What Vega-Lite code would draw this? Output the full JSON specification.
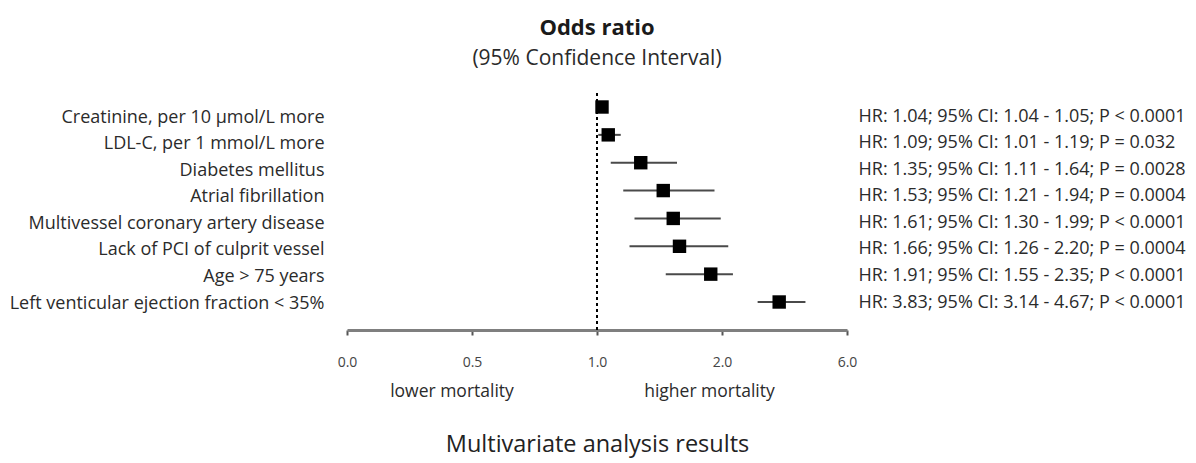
{
  "$schema": "https://vega.github.io/schema/vega-lite/v6.json",
  "autosize": {"type": "none"},
  "padding": {"left": 347, "top": 93, "right": 349, "bottom": 133},
  "width": 500,
  "height": 237,
  "background": "white",
  "config": {
    "view": {"stroke": null},
    "font": "Open Sans",
    "axis": {"labelFont": "Open Sans", "titleFont": "Open Sans"},
    "title": {"font": "Open Sans", "subtitleFont": "Open Sans"}
  },
  "title": {
    "text": "Odds ratio",
    "subtitle": "(95% Confidence Interval)",
    "fontSize": 22,
    "fontWeight": "bold",
    "color": "#1a1a1a",
    "subtitleFontSize": 21,
    "subtitleColor": "#2a2a2a",
    "subtitlePadding": 8,
    "anchor": "middle",
    "offset": 22
  },
  "datasets": {
    "rows": [
      {"label": "Creatinine, per 10 μmol/L more", "stat": "HR: 1.04; 95% CI: 1.04 - 1.05; P < 0.0001", "hr": 1.04, "lo": 1.04, "hi": 1.05},
      {"label": "LDL-C, per 1 mmol/L more", "stat": "HR: 1.09; 95% CI: 1.01 - 1.19; P = 0.032", "hr": 1.09, "lo": 1.01, "hi": 1.19},
      {"label": "Diabetes mellitus", "stat": "HR: 1.35; 95% CI: 1.11 - 1.64; P = 0.0028", "hr": 1.35, "lo": 1.11, "hi": 1.64},
      {"label": "Atrial fibrillation", "stat": "HR: 1.53; 95% CI: 1.21 - 1.94; P = 0.0004", "hr": 1.53, "lo": 1.21, "hi": 1.94},
      {"label": "Multivessel coronary artery disease", "stat": "HR: 1.61; 95% CI: 1.30 - 1.99; P < 0.0001", "hr": 1.61, "lo": 1.30, "hi": 1.99},
      {"label": "Lack of PCI of culprit vessel", "stat": "HR: 1.66; 95% CI: 1.26 - 2.20; P = 0.0004", "hr": 1.66, "lo": 1.26, "hi": 2.20},
      {"label": "Age > 75 years", "stat": "HR: 1.91; 95% CI: 1.55 - 2.35; P < 0.0001", "hr": 1.91, "lo": 1.55, "hi": 2.35},
      {"label": "Left venticular ejection fraction < 35%", "stat": "HR: 3.83; 95% CI: 3.14 - 4.67; P < 0.0001", "hr": 3.83, "lo": 3.14, "hi": 4.67}
    ],
    "notes": [
      {"note": "lower mortality", "pos": 0.42},
      {"note": "higher mortality", "pos": 1.9}
    ],
    "ref": [{"one": 1}]
  },
  "layer": [
    {
      "data": {"name": "rows"},
      "mark": {"type": "rule", "color": "#4a4a4a", "strokeWidth": 2},
      "encoding": {
        "x": {
          "field": "lo", "type": "quantitative",
          "scale": {"domain": [0, 0.5, 1, 2, 6], "range": [0, 125, 250, 375, 500], "clamp": true, "nice": false, "zero": false},
          "axis": {
            "values": [0, 0.5, 1, 2, 6], "format": ".1f",
            "grid": false,
            "domainColor": "#7f7f7f", "domainWidth": 3,
            "tickColor": "#555555", "tickWidth": 2, "tickSize": 5,
            "labelFontSize": 14, "labelColor": "#444444", "labelPadding": 20,
            "labelFlush": false,
            "title": "Multivariate analysis results",
            "titleFontSize": 23.5, "titleFontWeight": "normal", "titleColor": "#222222",
            "titlePadding": 63
          }
        },
        "x2": {"field": "hi"},
        "y": {
          "field": "label", "type": "nominal", "sort": null,
          "scale": {"type": "point", "range": [14, 209], "padding": 0},
          "axis": null
        }
      }
    },
    {
      "data": {"name": "rows"},
      "mark": {"type": "point", "shape": "square", "filled": true, "size": 180, "color": "black", "opacity": 1},
      "encoding": {
        "x": {"field": "hr", "type": "quantitative"},
        "y": {
          "field": "label", "type": "nominal", "sort": null,
          "scale": {"type": "point", "range": [14, 209], "padding": 0},
          "axis": null
        }
      }
    },
    {
      "data": {"name": "ref"},
      "mark": {"type": "rule", "color": "black", "strokeWidth": 2, "strokeDash": [3, 3]},
      "encoding": {"x": {"field": "one", "type": "quantitative"}}
    },
    {
      "data": {"name": "rows"},
      "mark": {"type": "point", "opacity": 0},
      "encoding": {
        "x": {"field": "hr", "type": "quantitative"},
        "y": {
          "field": "label", "type": "nominal", "sort": null,
          "scale": {"type": "point", "range": [24, 210], "padding": 0},
          "axis": {
            "orient": "left", "title": null, "domain": false, "ticks": false,
            "labelFontSize": 18, "labelColor": "#2b2b2b", "labelPadding": 23,
            "labelLimit": 400
          }
        }
      }
    },
    {
      "data": {"name": "rows"},
      "mark": {"type": "point", "opacity": 0},
      "encoding": {
        "x": {"field": "hr", "type": "quantitative"},
        "y": {
          "field": "stat", "type": "nominal", "sort": null,
          "scale": {"type": "point", "range": [23, 209], "padding": 0},
          "axis": {
            "orient": "right", "title": null, "domain": false, "ticks": false,
            "labelFontSize": 18, "labelColor": "#2b2b2b", "labelPadding": 11,
            "labelLimit": 400
          }
        }
      }
    },
    {
      "data": {"name": "notes"},
      "mark": {"type": "text", "fontSize": 17.5, "color": "#2b2b2b", "align": "center", "baseline": "middle", "dy": 62},
      "encoding": {
        "x": {"field": "pos", "type": "quantitative"},
        "y": {"value": {"expr": "height"}},
        "text": {"field": "note"}
      }
    }
  ],
  "resolve": {"scale": {"y": "independent"}}
}
